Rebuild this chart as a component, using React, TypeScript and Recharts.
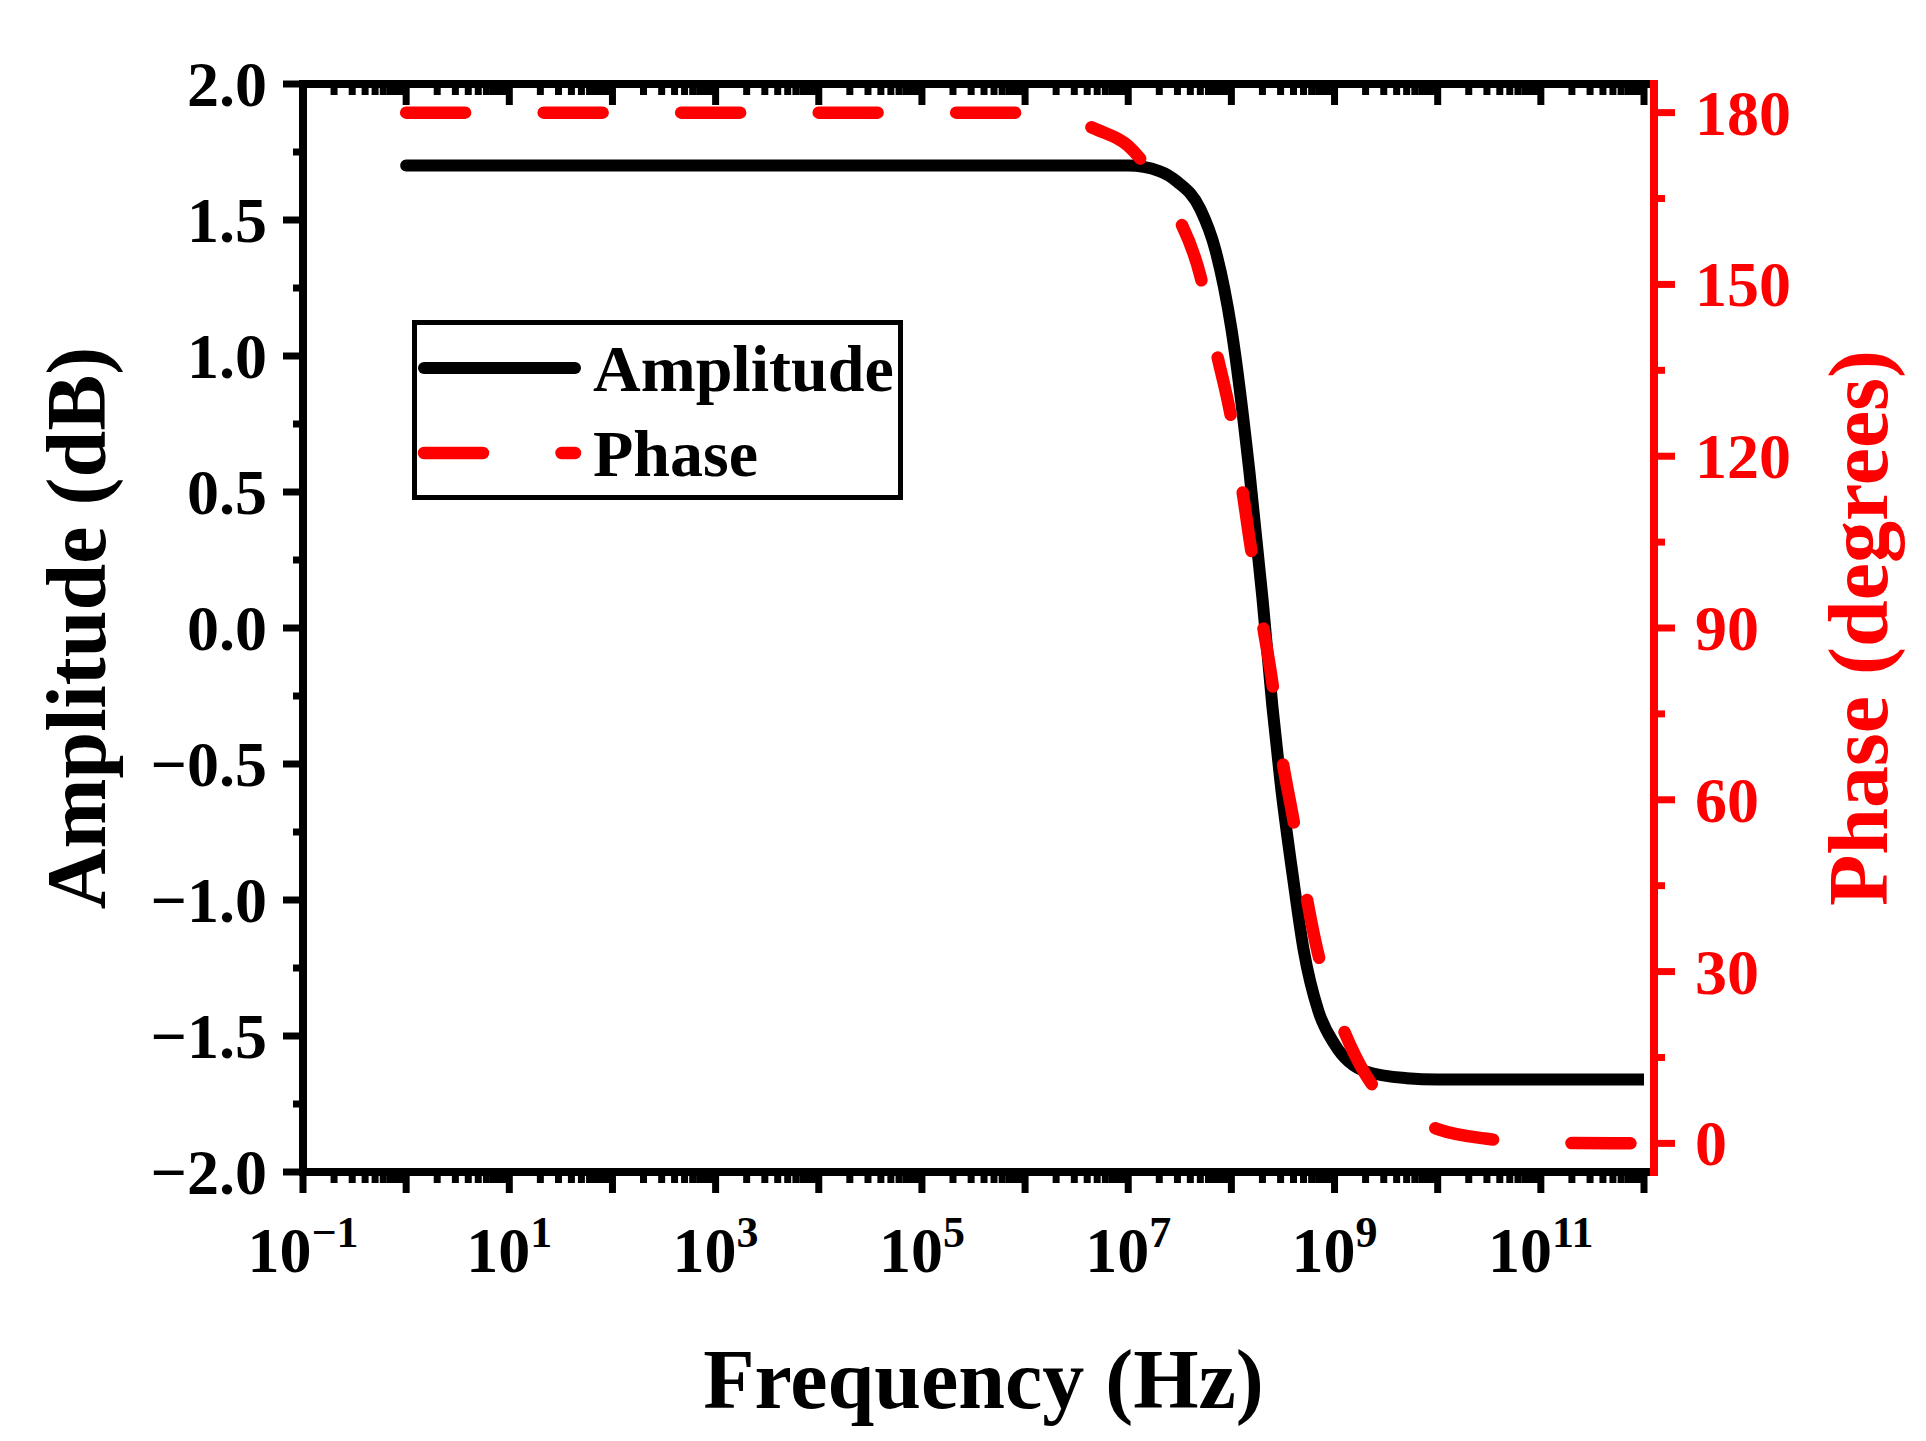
import React from 'react';
import { ComposedChart, Line, XAxis, YAxis, Legend } from 'recharts';

// ---- data ----
const frequencyHz = [1, 10, 100, 1e3, 1e4, 1e5, 1e6, 2e6, 5e6, 1e7, 2e7, 3e7, 5e7, 7e7, 1e8, 1.5e8, 2e8, 2.5e8, 3e8, 4e8, 5e8, 7e8, 1e9, 2e9, 5e9, 1e10, 3e10, 1e11, 1e12];
const amplitudeDb = [1.70, 1.70, 1.70, 1.70, 1.70, 1.70, 1.70, 1.70, 1.70, 1.70, 1.68, 1.64, 1.54, 1.39, 1.10, 0.57, 0.11, -0.29, -0.57, -0.93, -1.18, -1.41, -1.53, -1.63, -1.655, -1.66, -1.66, -1.66, -1.66];
const phaseDeg = [180, 180, 180, 180, 180, 180, 180, 179.5, 177, 174.2, 167.3, 162, 151.5, 139, 126.5, 105.5, 91, 80.3, 69, 56.4, 46, 32.8, 24, 12, 5, 2.5, 0.8, 0.1, 0];

// ---- tick definitions ----
const xMajorExponents = [-1, 0, 1, 2, 3, 4, 5, 6, 7, 8, 9, 10, 11, 12];
const xLabelExponents = [-1, 1, 3, 5, 7, 9, 11];
const xMinorMultipliers = [2, 3, 4, 5, 6, 7, 8, 9];
const ampTicks = [-2, -1.75, -1.5, -1.25, -1, -0.75, -0.5, -0.25, 0, 0.25, 0.5, 0.75, 1, 1.25, 1.5, 1.75, 2];
const phaseTicks = [0, 15, 30, 45, 60, 75, 90, 105, 120, 135, 150, 165, 180];

const data = frequencyHz.map((f, i) => ({ f, amp: amplitudeDb[i], phase: phaseDeg[i] }));

const xTicks: number[] = [];
xMajorExponents.forEach((k) => {
  xTicks.push(Number(Math.pow(10, k).toPrecision(6)));
  if (k < 12) xMinorMultipliers.forEach((m) => xTicks.push(Number((m * Math.pow(10, k)).toPrecision(6))));
});
xTicks.sort((a, b) => a - b);

const FONT = "'Liberation Serif', 'Times New Roman', serif";
const RED = '#ff0000';

const isMajorX = (v: number) => {
  const e = Math.log10(v);
  return Math.abs(e - Math.round(e)) < 1e-6;
};
const fmtExp = (e: number) => (e < 0 ? '\u2212' + Math.abs(e) : String(e));
const fmtAmp = (v: number) => (v < 0 ? '\u2212' + Math.abs(v).toFixed(1) : v.toFixed(1));

const BottomTick = (props: any) => {
  const { x, y, payload } = props;
  const v = payload.value;
  const major = isMajorX(v);
  const exp = Math.round(Math.log10(v));
  const show = major && xLabelExponents.includes(exp);
  return (
    <g>
      <line x1={x} x2={x} y1={y} y2={y + (major ? 21 : 11)} stroke="#000" strokeWidth={7} />
      {show && (
        <text x={x} y={y + 100} textAnchor="middle" fontFamily={FONT} fontWeight="bold" fontSize={64} fill="#000">
          10
          <tspan dy={-25} fontSize={44}>{fmtExp(exp)}</tspan>
        </text>
      )}
    </g>
  );
};

const TopTick = (props: any) => {
  const { x, y, payload } = props;
  const major = isMajorX(payload.value);
  return <line x1={x} x2={x} y1={y} y2={y + (major ? 21 : 11)} stroke="#000" strokeWidth={7} />;
};

const LeftTick = (props: any) => {
  const { x, y, payload } = props;
  const v = payload.value;
  const major = Math.abs(v * 2 - Math.round(v * 2)) < 1e-9;
  return (
    <g>
      <line x1={x} x2={x - (major ? 20 : 10)} y1={y} y2={y} stroke="#000" strokeWidth={7} />
      {major && (
        <text x={x - 36} y={y + 22} textAnchor="end" fontFamily={FONT} fontWeight="bold" fontSize={64} fill="#000">
          {fmtAmp(v)}
        </text>
      )}
    </g>
  );
};

const RightTick = (props: any) => {
  const { x, y, payload } = props;
  const v = payload.value;
  const major = v % 30 === 0;
  return (
    <g>
      <line x1={x} x2={x + (major ? 21 : 11)} y1={y} y2={y} stroke={RED} strokeWidth={7} />
      {major && (
        <text x={x + 41} y={y + 22} textAnchor="start" fontFamily={FONT} fontWeight="bold" fontSize={64} fill={RED}>
          {v}
        </text>
      )}
    </g>
  );
};

const FreqTitle = (props: any) => {
  const vb = props.viewBox || { x: 295, y: 1164, width: 1351, height: 200 };
  return (
    <text x={vb.x + vb.width / 2 + 5} y={vb.y + 236} textAnchor="middle" fontFamily={FONT} fontWeight="bold" fontSize={84} fill="#000">
      Frequency (Hz)
    </text>
  );
};

const AmpTitle = (props: any) => {
  const vb = props.viewBox || { x: 95, y: 76, width: 200, height: 1088 };
  const cx = vb.x + 2;
  const cy = vb.y + vb.height / 2;
  return (
    <text x={cx} y={cy} transform={`rotate(-90 ${cx} ${cy})`} textAnchor="middle" fontFamily={FONT} fontWeight="bold" fontSize={84} fill="#000">
      Amplitude (dB)
    </text>
  );
};

const PhaseTitle = (props: any) => {
  const vb = props.viewBox || { x: 1646, y: 76, width: 200, height: 1088 };
  const cx = vb.x + 233;
  const cy = vb.y + vb.height / 2;
  return (
    <text x={cx} y={cy} transform={`rotate(-90 ${cx} ${cy})`} textAnchor="middle" fontFamily={FONT} fontWeight="bold" fontSize={84} fill={RED}>
      Phase (degrees)
    </text>
  );
};

const renderLegend = (props: any) => {
  const payload = props.payload || [];
  return (
    <svg width={491} height={180} style={{ display: 'block', overflow: 'visible' }}>
      <rect x={2.5} y={2.5} width={486} height={175} fill="#fff" stroke="#000" strokeWidth={5} />
      {payload.map((entry: any, i: number) => {
        const cy = 48 + i * 85;
        const p = entry.payload || {};
        return (
          <g key={i}>
            <line
              x1={12}
              x2={163}
              y1={cy}
              y2={cy}
              stroke={entry.color}
              strokeWidth={p.strokeWidth || 12}
              strokeDasharray={p.strokeDasharray}
              strokeLinecap="round"
            />
            <text x={181} y={cy + 23} fontFamily={FONT} fontWeight="bold" fontSize={66} fill="#000">
              {entry.value}
            </text>
          </g>
        );
      })}
    </svg>
  );
};

export default function App() {
  return (
    <div style={{ width: 1910, height: 1425, background: '#fff' }}>
      <ComposedChart width={1910} height={1425} data={data} margin={{ top: 46, right: 64, bottom: 61, left: 95 }}>
        <XAxis
          xAxisId="bottom"
          dataKey="f"
          type="number"
          scale="log"
          domain={[0.1, 1e12]}
          allowDataOverflow
          ticks={xTicks}
          interval={0}
          tick={<BottomTick />}
          tickLine={false}
          tickSize={0}
          tickMargin={0}
          axisLine={{ stroke: '#000', strokeWidth: 8, strokeLinecap: 'square' }}
          height={200}
          padding={{ left: 0, right: 10 }}
          label={<FreqTitle />}
        />
        <XAxis
          xAxisId="top"
          orientation="top"
          dataKey="f"
          type="number"
          scale="log"
          domain={[0.1, 1e12]}
          allowDataOverflow
          ticks={xTicks}
          interval={0}
          tick={<TopTick />}
          tickLine={false}
          tickSize={0}
          tickMargin={0}
          axisLine={{ stroke: '#000', strokeWidth: 8, strokeLinecap: 'square' }}
          height={30}
          padding={{ left: 0, right: 10 }}
        />
        <YAxis
          yAxisId="left"
          type="number"
          domain={[-2, 2]}
          allowDataOverflow
          ticks={ampTicks}
          interval={0}
          tick={<LeftTick />}
          tickLine={false}
          tickSize={0}
          tickMargin={0}
          axisLine={{ stroke: '#000', strokeWidth: 8, strokeLinecap: 'square' }}
          width={200}
          label={<AmpTitle />}
        />
        <YAxis
          yAxisId="right"
          orientation="right"
          type="number"
          domain={[-5, 185]}
          allowDataOverflow
          ticks={phaseTicks}
          interval={0}
          tick={<RightTick />}
          tickLine={false}
          tickSize={0}
          tickMargin={0}
          axisLine={{ stroke: RED, strokeWidth: 8, strokeLinecap: 'square' }}
          width={200}
          label={<PhaseTitle />}
        />
        <Legend
          content={renderLegend}
          wrapperStyle={{ position: 'absolute', left: 404, top: 312, right: 'auto', bottom: 'auto', width: 0, height: 0, overflow: 'visible' }}
        />
        <Line
          xAxisId="bottom"
          yAxisId="left"
          dataKey="amp"
          name="Amplitude"
          type="monotone"
          stroke="#000"
          strokeWidth={12}
          strokeLinecap="round"
          strokeLinejoin="round"
          dot={false}
          activeDot={false}
          isAnimationActive={false}
        />
        <Line
          xAxisId="bottom"
          yAxisId="right"
          dataKey="phase"
          name="Phase"
          type="monotone"
          stroke={RED}
          strokeWidth={12.5}
          strokeDasharray="59 78.5"
          strokeLinecap="round"
          strokeLinejoin="round"
          dot={false}
          activeDot={false}
          isAnimationActive={false}
        />
      </ComposedChart>
    </div>
  );
}
